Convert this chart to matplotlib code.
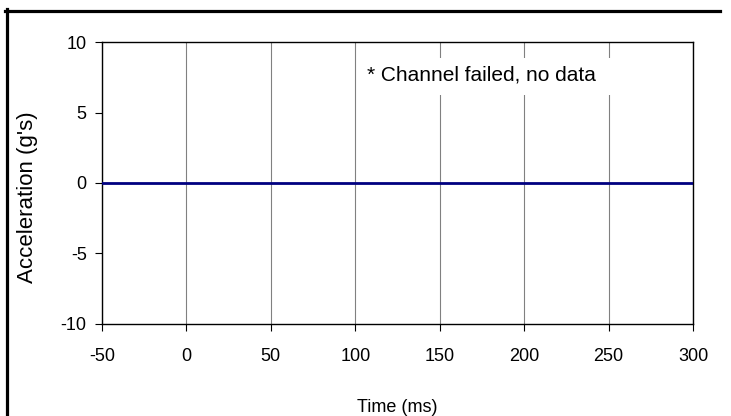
import numpy as np
import matplotlib.pyplot as plt
from matplotlib.lines import Line2D
from matplotlib.patches import Rectangle

### data
time = [-50, 0, 50, 100, 150, 200, 250, 300]
accel = [0, 0, 0, 0, 0, 0, 0, 0]
xticks = [-50, 0, 50, 100, 150, 200, 250, 300]
yticks = [-10, -5, 0, 5, 10]
note = "* Channel failed, no data"

plain = ["Liberation Sans", "DejaVu Sans"]

### plotting
fig = plt.figure(figsize=(7.31, 4.16), dpi=100)
ax = fig.add_axes([0.1395, 0.2212, 0.8085, 0.6778])

ax.plot(time, accel, color="#000080", linewidth=2.0, zorder=3)

ax.set_xlim(-50, 300)
ax.set_ylim(-10, 10)
ax.set_xticks(xticks)
ax.set_yticks(yticks)
ax.set_xticklabels([str(t) for t in xticks], family=plain, fontsize=13)
ax.set_yticklabels([str(t) for t in yticks], family=plain, fontsize=13)
ax.tick_params(direction="out", length=5, width=0.8, color="black", pad=6)
ax.tick_params(axis="x", pad=12)

ax.grid(axis="x", color="#808080", linewidth=0.8)
ax.set_axisbelow(True)
for s in ax.spines.values():
    s.set_linewidth(1.0)
    s.set_color("black")

ax.set_xlabel("Time (ms)", family=plain, fontsize=13, labelpad=25)
ax.set_ylabel("Acceleration (g's)", family=plain, fontsize=16)
ax.yaxis.set_label_coords(-0.108, 0.45)

# white box behind the note, hiding the grid lines
ax.add_patch(Rectangle((102.5, 6.25), 151.5, 2.62, facecolor="white",
                       edgecolor="none", zorder=2))
ax.text(174.5, 7.66, note, family=plain, fontsize=15, ha="center", va="center",
        zorder=4)

# outer frame (top and left only visible)
fig.add_artist(Line2D([5 / 731, 720 / 731], [1 - 10.5 / 416, 1 - 10.5 / 416],
                      color="black", linewidth=2.3, transform=fig.transFigure))
fig.add_artist(Line2D([6.5 / 731, 6.5 / 731], [0, 1 - 9 / 416],
                      color="black", linewidth=2.3, transform=fig.transFigure))

plt.savefig("out.png", dpi=100)
